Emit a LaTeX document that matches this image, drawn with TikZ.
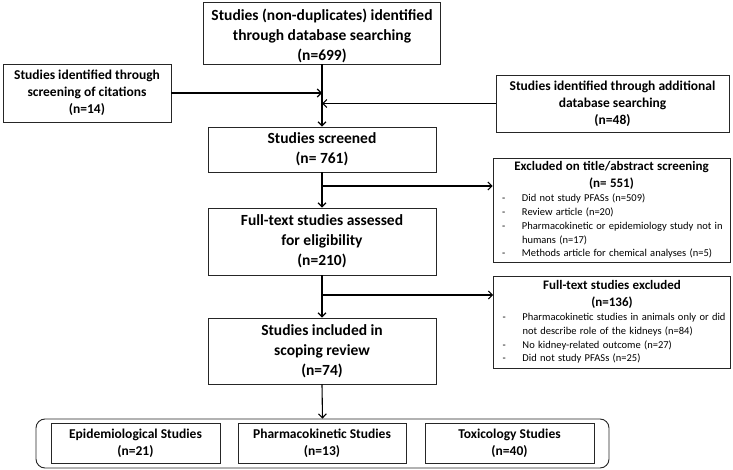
\documentclass[tikz,border=0pt]{standalone}
\usepackage{fontspec}
\setmainfont{Carlito}
\usetikzlibrary{arrows.meta}
\newcommand{\bul}[1]{\mbox{\makebox[23pt][l]{\hspace{3pt}-}#1}}
\newcommand{\cont}[1]{\mbox{\hspace*{23pt}#1}}
\begin{document}
\begin{tikzpicture}[x=1pt,y=-1pt,
  box/.style={draw=black!85, line width=0.9pt, inner sep=0pt, align=center,
    font=\bfseries\fontsize{15.5}{20}\selectfont},
  smallbox/.style={box, font=\bfseries\fontsize{13.5}{17}\selectfont},
  rbox/.style={draw=black!85, line width=0.9pt, inner xsep=6pt, inner ysep=0pt,
    text width=225pt, align=left},
  outerbox/.style={draw=black!85, line width=0.9pt, rounded corners=9pt, inner sep=0pt},
  conn/.style={line width=1.1pt, -{Straight Barb[length=4pt,width=8pt,line width=1.1pt]}}]
\useasboundingbox[fill=white] (0,0) rectangle (733,470);

% main column
\node[box, minimum width=237pt, minimum height=62pt] (top) at (322,33)
  {\rule{0pt}{17pt}Studies (non-duplicates) identified\\through database searching\\(n=699)};
\node[box, minimum width=228pt, minimum height=45pt] (screened) at (322,149.5)
  {Studies screened\\(n= 761)};
\node[box, minimum width=228pt, minimum height=67pt] (full) at (322,241.5)
  {Full-text studies assessed\\for eligibility\\(n=210)};
\node[box, minimum width=228pt, minimum height=66pt] (incl) at (322,351)
  {Studies included in\\scoping review\\(n=74)};

% side inputs
\node[smallbox, minimum width=168pt, minimum height=58pt] (cit) at (87,93)
  {Studies identified through\\screening of citations\\(n=14)};
\node[smallbox, minimum width=233pt, minimum height=57pt] (add) at (612.5,103.5)
  {Studies identified through additional\\database searching\\(n=48)};

% exclusion boxes
\node[rbox, minimum height=104pt] (ex1) at (611.5,210) {%
  {\centering\bfseries\fontsize{13}{16.5}\selectfont Excluded on title/abstract screening\\(n= 551)\par}
  \vspace{1pt}
  {\fontsize{10.5}{13.7}\selectfont\noindent
  \bul{Did not study PFASs (n=509)}\\
  \bul{Review article (n=20)}\\
  \bul{Pharmacokinetic or epidemiology study not in}\\
  \cont{humans (n=17)}\\
  \bul{Methods article for chemical analyses (n=5)}\par}};
\node[rbox, minimum height=92pt] (ex2) at (612,322) {%
  {\centering\bfseries\fontsize{13}{16.5}\selectfont Full-text studies excluded\\(n=136)\par}
  \vspace{1pt}
  {\fontsize{10.5}{13.7}\selectfont\noindent
  \bul{Pharmacokinetic studies in animals only or did}\\
  \cont{not describe role of the kidneys (n=84)}\\
  \bul{No kidney-related outcome (n=27)}\\
  \bul{Did not study PFASs (n=25)}\par}};

% bottom group
\node[outerbox, minimum width=573pt, minimum height=49pt] (grp) at (322.5,443.5) {};
\node[smallbox, minimum width=169pt, minimum height=40pt] (epi) at (135.5,443)
  {Epidemiological Studies\\(n=21)};
\node[smallbox, minimum width=168pt, minimum height=40pt] (pk) at (322,443)
  {Pharmacokinetic Studies\\(n=13)};
\node[smallbox, minimum width=169pt, minimum height=40pt] (tox) at (509.5,443)
  {Toxicology Studies\\(n=40)};

% connectors
\draw[conn] (top.south) -- (screened.north);
\draw[conn] (cit.east) -- (cit.east -| top.south);
\draw[conn] (add.west) -- (add.west -| top.south);
\draw[conn] (screened.south) -- (full.north);
\coordinate (b1) at (322,186);
\draw[conn] (b1) -- (b1 -| ex1.west);
\draw[conn] (full.south) -- (incl.north);
\coordinate (b2) at (322,295);
\draw[conn] (b2) -- (b2 -| ex2.west);
\draw[conn] (incl.south) -- (grp.north);
\end{tikzpicture}
\end{document}
